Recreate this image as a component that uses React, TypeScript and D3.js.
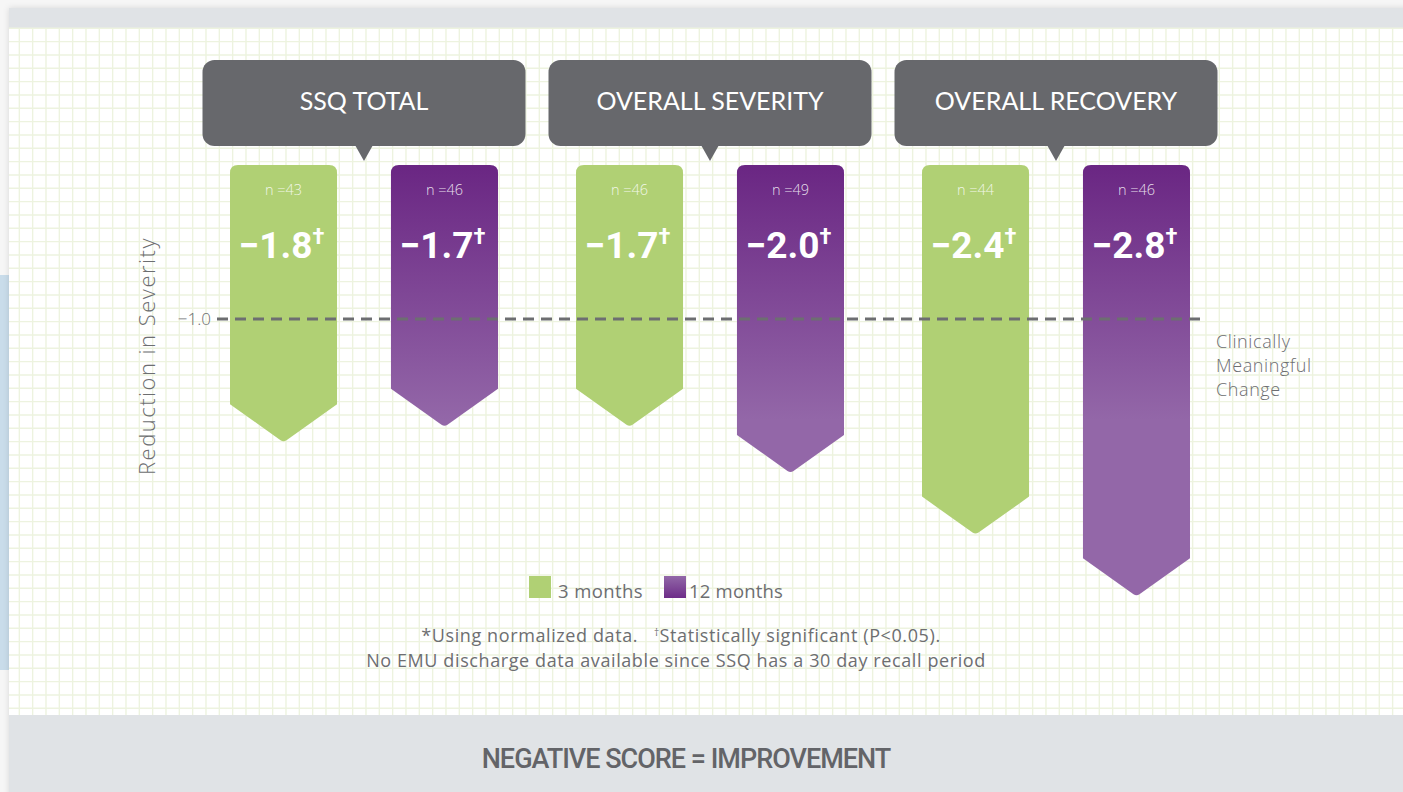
import React from 'react'
import * as d3 from 'd3'

// chart values
const groups = ['SSQ TOTAL', 'OVERALL SEVERITY', 'OVERALL RECOVERY']
const series = ['3 months', '12 months']
const values3m = [-1.8, -1.7, -2.4]
const values12m = [-1.7, -2.0, -2.8]
const n3m = [43, 46, 44]
const n12m = [46, 49, 46]
const thresholdValue = -1.0
const thresholdLabel = ['Clinically', 'Meaningful', 'Change']
const footnoteA = '*Using normalized data.   '
const footnoteB = 'Statistically significant (P<0.05).'
const footnoteC = 'No EMU discharge data available since SSQ has a 30 day recall period'

const W = 1403
const H = 792
const GRAY_TEXT = '#6d6e71'
const GREEN = '#b0d074'
const FONT = 'Lato, "Open Sans", sans-serif'
const BODY = '"Open Sans", sans-serif'

function barPath(x0: number, x1: number, y0: number, tip: number) {
	const r = 8
	const depth = 38
	const cx = (x0 + x1) / 2
	const side = tip - depth
	return `M${x0},${y0 + r}Q${x0},${y0} ${x0 + r},${y0}L${x1 - r},${y0}Q${x1},${y0} ${x1},${y0 + r}` +
		`L${x1},${side}L${cx + 3},${tip - 2}Q${cx},${tip} ${cx - 3},${tip - 2}L${x0},${side}Z`
}

function App() {
	const x = d3.scaleBand<string>().domain(groups).range([191, 1229]).padding(0)
	const xSub = d3.scaleBand<string>().domain(series).range([39, 307]).paddingInner(0.335)
	const y = d3.scaleLinear().domain([0, -3]).range([165, 165 + 3 * 154])
	const color = d3.scaleOrdinal<string, string>().domain(series).range([GREEN, 'url(#purpleGrad)'])

	const gridX = d3.range(19.33, W, 13.333)
	const gridY = d3.range(28.3, 715, 13.333)

	const rows = groups.map((g, i) => [
		{ group: g, key: series[0], value: values3m[i], n: n3m[i] },
		{ group: g, key: series[1], value: values12m[i], n: n12m[i] },
	])

	return (
		<div style={{ position: 'absolute', left: 0, top: 0 }}>
			<svg width={W} height={H} style={{ display: 'block' }}>
				<defs>
					<linearGradient id="purpleGrad" gradientUnits="userSpaceOnUse" x1="0" y1="165" x2="0" y2="420">
						<stop offset="0" stopColor="#6a2683" />
						<stop offset="1" stopColor="#9367a8" />
					</linearGradient>
					<linearGradient id="legendPurple" x1="0" y1="0" x2="0" y2="1">
						<stop offset="0" stopColor="#9268a8" />
						<stop offset="1" stopColor="#6d2c88" />
					</linearGradient>
					<filter id="cardShadow" x="-5%" y="-5%" width="110%" height="110%">
						<feDropShadow dx="0" dy="0" stdDeviation="3" floodColor="#000" floodOpacity="0.12" />
					</filter>
				</defs>

				<rect width={W} height={H} fill="#f6f6f6" />
				<rect x={0} y={275} width={9} height={395} fill="#c9dcea" />
				<rect x={9} y={8} width={W} height={H} fill="#ffffff" filter="url(#cardShadow)" />
				<rect x={9} y={8} width={W} height={20} fill="#e0e3e6" />

				<g stroke="#edf3df" strokeWidth={1.4}>
					{gridX.map((gx) => (
						<line key={'gx' + gx} x1={gx} x2={gx} y1={28} y2={715} />
					))}
					{gridY.map((gy) => (
						<line key={'gy' + gy} x1={9} x2={W} y1={gy} y2={gy} />
					))}
				</g>

				<rect x={9} y={715} width={W} height={H - 715} fill="#e0e3e6" />
				<text x={686} y={768} textAnchor="middle" fontFamily="Roboto, sans-serif" fontWeight={500}
					fontSize={27} fill="#636468" letterSpacing={-1}>
					NEGATIVE SCORE = IMPROVEMENT
				</text>

				{/* group headers */}
				{groups.map((g) => {
					const cx = (x(g) as number) + x.bandwidth() / 2
					return (
						<g key={g}>
							<rect x={cx - 161.5} y={60} width={323} height={86} rx={12} fill="#67686c" />
							<path d={`M${cx - 9},145L${cx + 9},145L${cx},161Z`} fill="#67686c" />
							<text x={cx} y={110} textAnchor="middle" fontFamily={FONT} fontSize={25} fill="#fff">
								{g}
							</text>
						</g>
					)
				})}

				{/* y axis label */}
				<text transform="translate(155,356) rotate(-90)" textAnchor="middle" fontFamily={BODY}
					fontSize={22} fill={GRAY_TEXT} fontWeight={300} letterSpacing={1.5}>
					Reduction in Severity
				</text>
				<text x={211} y={325} textAnchor="end" fontFamily={BODY} fontSize={17} fill={GRAY_TEXT} fontWeight={300}>
					{'\u2212' + Math.abs(thresholdValue).toFixed(1)}
				</text>

				{/* bars */}
				{rows.map((pair) =>
					pair.map((d) => {
						const x0 = (x(d.group) as number) + (xSub(d.key) as number)
						const x1 = x0 + xSub.bandwidth()
						const cx = (x0 + x1) / 2
						return (
							<g key={d.group + d.key}>
								<path d={barPath(x0, x1, y(0), y(d.value))} fill={color(d.key)} />
								<text x={cx} y={195} textAnchor="middle" fontFamily={BODY} fontSize={14.5}
									fill="#fff" fillOpacity={0.85} fontWeight={300}>
									{'n =' + d.n}
								</text>
								<text x={cx - 2} y={258} textAnchor="middle" fontFamily="Roboto, sans-serif"
									fontWeight={700} fontSize={37} fill="#fff">
									{'\u2212' + Math.abs(d.value).toFixed(1)}
									<tspan fontSize={22} dy={-14}>{'\u2020'}</tspan>
								</text>
							</g>
						)
					})
				)}

				{/* threshold */}
				<line x1={217} x2={1206} y1={y(thresholdValue)} y2={y(thresholdValue)} stroke="#6d6e71"
					strokeWidth={3} strokeDasharray="11 7" />
				{thresholdLabel.map((t, i) => (
					<text key={t} x={1216} y={348 + i * 24} fontFamily={BODY} fontSize={18} fill={GRAY_TEXT}
						fontWeight={300} letterSpacing={0.6}>
						{t}
					</text>
				))}

				{/* legend */}
				<rect x={529} y={576} width={22} height={22} fill={GREEN} />
				<text x={558} y={598} fontFamily={BODY} fontSize={18.5} fill={GRAY_TEXT} letterSpacing={0.4}>{series[0]}</text>
				<rect x={664} y={576} width={22} height={22} fill="url(#legendPurple)" />
				<text x={689} y={598} fontFamily={BODY} fontSize={18.5} fill={GRAY_TEXT} letterSpacing={0.2}>{series[1]}</text>

				<text x={681} y={642} textAnchor="middle" fontFamily={BODY} fontSize={18} fill={GRAY_TEXT}
					letterSpacing={0.6} style={{ whiteSpace: 'pre' }}>
					{footnoteA}
					<tspan fontSize={10} dy={-6}>{'\u2020'}</tspan>
					<tspan dy={6}>{footnoteB}</tspan>
				</text>
				<text x={676} y={667} textAnchor="middle" fontFamily={BODY} fontSize={18} fill={GRAY_TEXT}
					letterSpacing={0.6}>
					{footnoteC}
				</text>
			</svg>
		</div>
	)
}

export default App
